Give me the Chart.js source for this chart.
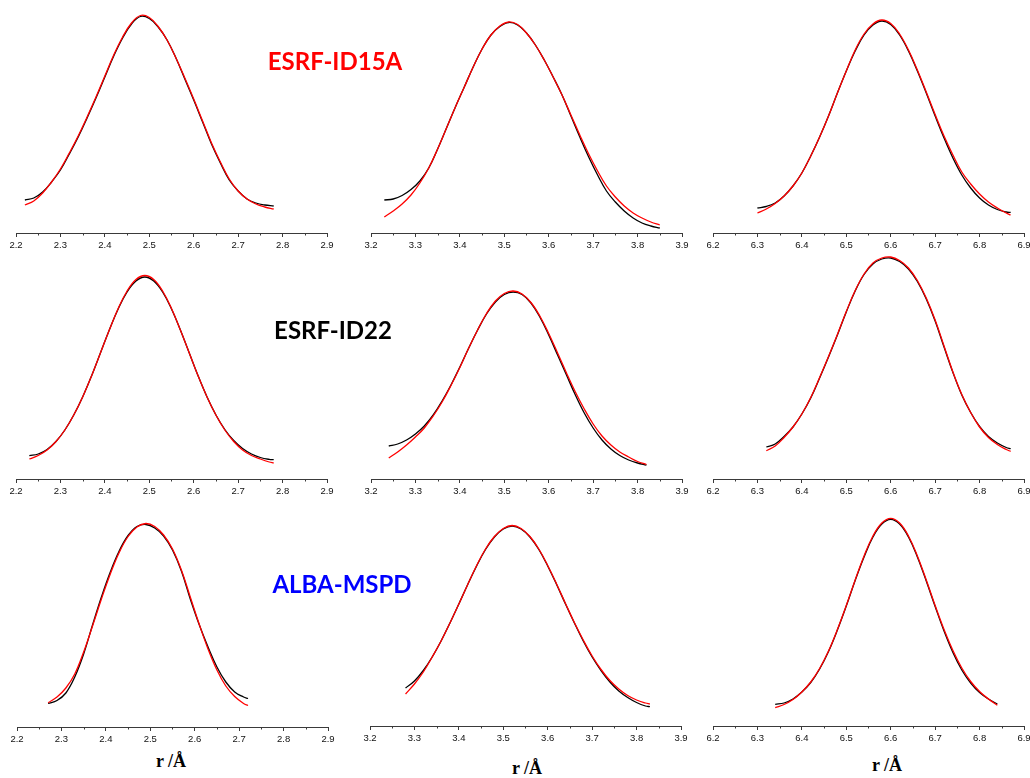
<!DOCTYPE html>
<html><head><meta charset="utf-8">
<script src="https://cdn.jsdelivr.net/npm/chart.js@4.4.0/dist/chart.umd.min.js"></script>
<style>
html,body{margin:0;padding:0;width:1030px;height:778px;overflow:hidden;background:#fff;}
canvas{position:absolute;}
.lbl{position:absolute;transform:translate(-50%,-50%);font-family:Lato,'Liberation Sans',sans-serif;font-weight:700;font-size:24px;line-height:24px;white-space:nowrap;}
.ax{position:absolute;transform:translate(-50%,-50%);font-family:'Liberation Serif','Times New Roman',serif;font-weight:700;font-size:18px;line-height:18px;white-space:nowrap;color:#000;}
</style></head><body>
<canvas id="A1" width="331" height="250"></canvas>
<canvas id="A2" width="331" height="250"></canvas>
<canvas id="A3" width="331" height="250"></canvas>
<canvas id="B1" width="331" height="250"></canvas>
<canvas id="B2" width="331" height="250"></canvas>
<canvas id="B3" width="331" height="250"></canvas>
<canvas id="C1" width="331" height="250"></canvas>
<canvas id="C2" width="331" height="250"></canvas>
<canvas id="C3" width="331" height="250"></canvas>
<div class="lbl" style="left:335px;top:61px;color:#ff0000;">ESRF-ID15A</div>
<div class="lbl" style="left:333px;top:330px;color:#000000;">ESRF-ID22</div>
<div class="lbl" style="left:342px;top:584px;color:#0000ff;">ALBA-MSPD</div>
<div class="ax" style="left:171px;top:761px;">r /Å</div>
<div class="ax" style="left:527px;top:768px;">r /Å</div>
<div class="ax" style="left:887px;top:765px;">r /Å</div>
<script>
// ---- Row 1: ESRF-ID15A ----
const xA1 = [2.22,2.24,2.26,2.28,2.30,2.32,2.34,2.36,2.38,2.40,2.42,2.44,2.46,2.48,2.50,2.52,2.54,2.56,2.58,2.60,2.62,2.64,2.66,2.68,2.70,2.72,2.74,2.76,2.78];
const blackA1 = [33,35,41,51,63,79,96,115,135,156,177,195,209,216.5,214.5,206,193,175,154,133,111,89,70,53,42,34,30,28,27];
const redA1 = [28,32,40,51,64,80,97,116,136,157,178,196,210,217.5,215.5,206.5,193,175,155,134,112,90,71,54,42,34,29,26,24];

const xA2 = [3.23,3.25,3.27,3.29,3.31,3.33,3.35,3.37,3.39,3.41,3.43,3.45,3.47,3.49,3.51,3.53,3.55,3.57,3.59,3.61,3.63,3.65,3.67,3.69,3.71,3.73,3.75,3.77,3.79,3.81,3.83,3.85];
const blackA2 = [33,34,37.5,43.5,52,65,84,105,126,146,166,184,198,206.5,210.5,208,200,188,173,156,138,117,96,76,58,42,31,22,15,10,7,5];
const redA2 = [16,22,29,38,50,65,84,105,126,146,166,184,198,207,211,208.5,200,188,173,156,138,118,98,79,62,47,36,27,20,15,11,8];

const xA3 = [6.30,6.32,6.34,6.36,6.38,6.40,6.42,6.44,6.46,6.48,6.50,6.52,6.54,6.56,6.58,6.60,6.62,6.64,6.66,6.68,6.70,6.72,6.74,6.76,6.78,6.80,6.82,6.84,6.86,6.87];
const blackA3 = [25,26.5,30,37,47,60,77,96,117,140,162,182,198,208,212,208.5,198,182,162,140,117,95,75,58,45,35,28,23.5,21,20.6];
const redA3 = [20,24,29.5,37,47,60,77,96,117,140,162,183,199,209,213,209.5,199,183,163,141,118.5,97,78,61,49,39,31,25,20,18];

// ---- Row 2: ESRF-ID22 ----
const xB1 = [2.23,2.25,2.27,2.29,2.31,2.33,2.35,2.37,2.39,2.41,2.43,2.45,2.47,2.49,2.51,2.53,2.55,2.57,2.59,2.61,2.63,2.65,2.67,2.69,2.71,2.73,2.75,2.77,2.78];
const blackB1 = [23.3,25,29.5,37.5,49,64,82,103,126,149,170,187,198,202,198,187,170,149,126,103,82,64,49.5,38.5,30.5,25,21.5,19.6,19.3];
const redB1 = [20,23.5,29,37.5,49,64,82,103,126,149,170.5,188,199.5,203.5,199.5,188,170.5,149,126,103,82,64,49,37.5,29,23.5,20,17,16];

const xB2 = [3.24,3.26,3.28,3.30,3.32,3.34,3.36,3.38,3.40,3.42,3.44,3.46,3.48,3.50,3.52,3.54,3.56,3.58,3.60,3.62,3.64,3.66,3.68,3.70,3.72,3.74,3.76,3.78,3.80,3.82];
const blackB2 = [33,35,39,45,53,64,78,94,112,131,149,165,177,184.5,187,184.5,176,162,144,124,104,84,66,51,39,30,23.5,19,16,14];
const redB2 = [21,27,34,42,51,63,77,93.5,111.5,131,149,165.5,178,185.5,188,185,176.5,163,145.5,126,106,87,70,55,43,34,27,22,17.5,14.5];

const xB3 = [6.32,6.34,6.36,6.38,6.40,6.42,6.44,6.46,6.48,6.50,6.52,6.54,6.56,6.58,6.60,6.62,6.64,6.66,6.68,6.70,6.72,6.74,6.76,6.78,6.80,6.82,6.84,6.86,6.87];
const blackB3 = [32,35,42.5,52,65,81,101,122,144,167,188,204.5,215,220,221,217.5,210,197.5,180,158,132,106.5,84,66.5,52.5,42.5,36,31.5,30.3];
const redB3 = [28.3,33,41.5,52,65,81.5,101.5,122.5,144.5,167.5,188.5,205,216,221,222,218.5,211,198.5,181,159,133,107,84.5,66.5,52,41.5,34.5,29.5,27.6];

// ---- Row 3: ALBA-MSPD ----
const xC1 = [2.27,2.29,2.31,2.33,2.35,2.37,2.39,2.41,2.43,2.45,2.47,2.49,2.51,2.53,2.55,2.57,2.59,2.61,2.63,2.65,2.67,2.69,2.71,2.72];
const blackC1 = [23.5,26.5,34,50,73,102,130,155,176,191.5,200.5,202.5,199,191,177,156,128,102.5,80,60,45,35,30,28.5];
const redC1 = [24.2,30,39,53,75,101,128,153,174.5,190.5,200,203.5,200.5,192,178,157,130,103,78,57,41,30.5,23.5,21.5];

const xC2 = [3.28,3.30,3.32,3.34,3.36,3.38,3.40,3.42,3.44,3.46,3.48,3.50,3.52,3.54,3.56,3.58,3.60,3.62,3.64,3.66,3.68,3.70,3.72,3.74,3.76,3.78,3.80,3.82,3.83];
const blackC2 = [38,45,55.5,69,85,103,122,141.5,160,176.5,189,197,200,197,189,176.5,160,141.5,122,103,85,69,55.5,44,35,28.5,23.5,20,19.3];
const redC2 = [32,42,54,69,85,103,122,141.5,160.5,177,189.5,197.5,200.5,197.5,189.5,177,160.5,142,122.5,103.5,86,70,56.5,45.5,37,30.5,26,23,22];

const xC3 = [6.34,6.36,6.38,6.40,6.42,6.44,6.46,6.48,6.50,6.52,6.54,6.56,6.58,6.60,6.62,6.64,6.66,6.68,6.70,6.72,6.74,6.76,6.78,6.80,6.82,6.84];
const blackC3 = [21.7,23,27,34,43.5,57,74.5,96,120,145.5,169,189,202,206.7,202,189,169,145,119.5,95,73.5,56,43,33.5,27,22];
const redC3 = [18.4,21.5,26.5,34,44,57.5,75,96.5,120.5,146,170,190,203,207.7,203,190,170,146,120.5,96.5,75.5,58,44.5,34.5,27,20.7];

// axis ranges (tick labels every 0.1)
const rangeCol1 = [2.2, 2.9];
const rangeCol2 = [3.2, 3.9];
const rangeCol3 = [6.2, 6.9];

const panels = [
  {id:'A1', left:6,   top:3,   range:rangeCol1, x:xA1, black:blackA1, red:redA1},
  {id:'A2', left:361, top:3,   range:rangeCol2, x:xA2, black:blackA2, red:redA2},
  {id:'A3', left:703, top:3,   range:rangeCol3, x:xA3, black:blackA3, red:redA3},
  {id:'B1', left:6,   top:249, range:rangeCol1, x:xB1, black:blackB1, red:redB1},
  {id:'B2', left:361, top:249, range:rangeCol2, x:xB2, black:blackB2, red:redB2},
  {id:'B3', left:703, top:249, range:rangeCol3, x:xB3, black:blackB3, red:redB3},
  {id:'C1', left:7,   top:497, range:rangeCol1, x:xC1, black:blackC1, red:redC1},
  {id:'C2', left:360, top:496, range:rangeCol2, x:xC2, black:blackC2, red:redC2},
  {id:'C3', left:703, top:496, range:rangeCol3, x:xC3, black:blackC3, red:redC3}
];

const AXIS_COLOR = '#3a3a3a';
const minorTicks = {
  id:'minorTicks',
  afterDraw(chart){
    const s = chart.scales.x, ctx = chart.ctx, t = s.ticks;
    ctx.save();
    ctx.strokeStyle = AXIS_COLOR; ctx.lineWidth = 1;
    for (let i = 0; i < t.length - 1; i++) {
      const v = (t[i].value + t[i+1].value) / 2;
      const px = Math.round(s.getPixelForValue(v)) + 0.5;
      ctx.beginPath(); ctx.moveTo(px, s.top); ctx.lineTo(px, s.top + 2.5); ctx.stroke();
    }
    ctx.restore();
  }
};

function pts(xs, ys){ return xs.map((x,i)=>({x:x, y:ys[i]})); }

panels.forEach(p => {
  const cv = document.getElementById(p.id);
  cv.style.left = p.left + 'px';
  cv.style.top = p.top + 'px';
  new Chart(cv, {
    type:'line',
    data:{ datasets:[
      {data:pts(p.x,p.red), borderColor:'#ff0000', borderWidth:1.3, pointRadius:0, fill:false, tension:0.4, order:0},
      {data:pts(p.x,p.black), borderColor:'#000000', borderWidth:1.3, pointRadius:0, fill:false, tension:0.4, order:1}
    ]},
    options:{
      responsive:false, animation:false, events:[],
      layout:{padding:{left:10,right:10,top:0,bottom:0}},
      plugins:{legend:{display:false}, tooltip:{enabled:false}},
      scales:{
        x:{type:'linear', min:p.range[0], max:p.range[1],
           afterFit:(s)=>{ s.height = 20; },
           ticks:{stepSize:0.1, autoSkip:false, maxRotation:0, padding:3, color:'#111',
                  font:{family:"'Liberation Sans', Arial, sans-serif", size:9.5},
                  callback:(v)=>Number(v).toFixed(1)},
           grid:{display:true, drawOnChartArea:false, drawTicks:true, tickLength:4, color:AXIS_COLOR},
           border:{display:true, color:AXIS_COLOR, width:1}},
        y:{display:false, min:0, max:230}
      }
    },
    plugins:[minorTicks]
  });
});
</script>
</body></html>
